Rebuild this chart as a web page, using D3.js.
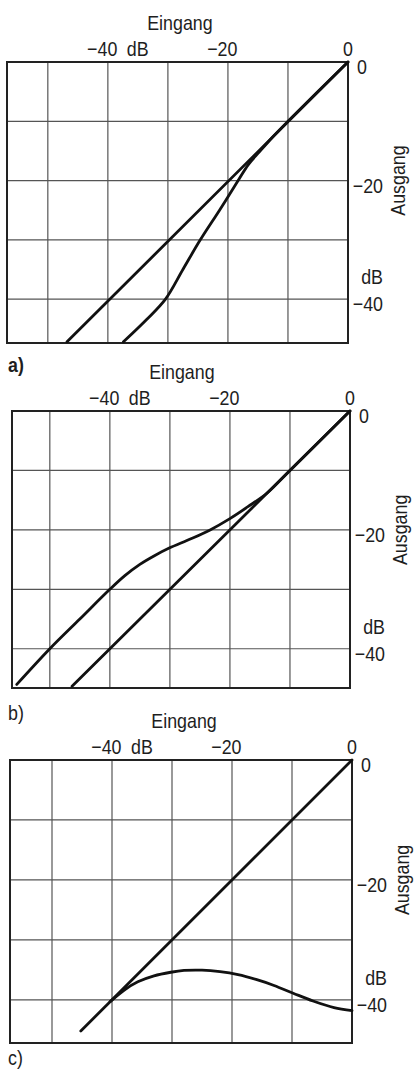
<!DOCTYPE html>
<html>
<head>
<meta charset="utf-8">
<script src="https://cdn.jsdelivr.net/npm/d3@7"></script>
<style>
  body { margin: 0; background: #fff; }
  text { font-family: 'Liberation Sans', Arial, sans-serif; font-size: 21px; fill: #1e1e1e; }
  .grid { stroke: #555; stroke-width: 1.2; }
  .frame { fill: none; stroke: #222; stroke-width: 2; }
  .curve { fill: none; stroke: #111; stroke-width: 2.8; stroke-linecap: round; stroke-linejoin: round; }
</style>
</head>
<body>
<svg id="chart" width="414" height="1070"></svg>
<script>
// grid positions and tick labels (dB)
const gridIn = [-50, -40, -30, -20, -10];
const gridOut = [-10, -20, -30, -40];
const inTicks = [-40, -20, 0];
const outTicks = [0, -20, -40];
const panelNames = ['a)', 'b)', 'c)'];

// a) expander
const diagA = [[-46.8, -47.2], [0, 0]];
const curveA = [[-37.4, -47.2], [-33.5, -43.4], [-30.4, -40], [-27.5, -35], [-24.6, -30],
                [-21.4, -25], [-18.3, -20], [-16.6, -17.3], [-14.8, -15.2], [-12.5, -12.6], [-10, -10], [0, 0]];

// b) compressor
const diagB = [[-46.3, -46.3], [0, 0]];
const curveB = [[-55.5, -46], [-50, -40], [-45, -35], [-40, -30], [-37.5, -27.7], [-35, -25.8],
                [-32.5, -24.3], [-30.2, -23.1], [-26.5, -21.5], [-23.3, -20], [-20, -18.1], [-17, -16.1],
                [-13.8, -13.8], [-10, -10], [0, 0]];

// c)
const diagC = [[-45.2, -45.2], [0, 0]];
const curveC = [[-40.3, -40.3], [-38, -38.4], [-35.7, -37], [-33, -36], [-30.2, -35.4], [-28, -35.1],
                [-25, -35.05], [-22, -35.3], [-19, -35.8], [-16, -36.6], [-13, -37.6], [-9.8, -38.9],
                [-6.5, -40.2], [-3, -41.3], [0, -41.8]];

const panels = [
  { left: 7,  right: 348, top: 62,  bottom: 343,  inMin: -56.8, outMin: -47.4, labelY: 372,  bold: true,  lines: [diagA, curveA] },
  { left: 12, right: 350, top: 411, bottom: 688,  inMin: -56.3, outMin: -46.6, labelY: 720,  bold: false, lines: [diagB, curveB] },
  { left: 10, right: 352, top: 760, bottom: 1043, inMin: -57,   outMin: -47.2, labelY: 1065, bold: false, lines: [diagC, curveC] }
];

const svg = d3.select('#chart');
const fmt = d => d < 0 ? '\u2212' + Math.abs(d) : String(d);
const NARROW = 0.85;   // condensed lettering like the original

function label(g, x, y, str, anchor, rot) {
  return g.append('text')
    .attr('transform', `translate(${x},${y})${rot ? ' rotate(' + rot + ')' : ''} scale(${NARROW},1)`)
    .attr('text-anchor', anchor || 'start')
    .text(str);
}

function drawPanel(p, i) {
  const x = d3.scaleLinear().domain([p.inMin, 0]).range([p.left, p.right]);
  const y = d3.scaleLinear().domain([0, p.outMin]).range([p.top, p.bottom]);
  const g = svg.append('g');

  g.selectAll('.gx').data(gridIn).enter().append('line')
    .attr('class', 'grid')
    .attr('x1', d => x(d)).attr('x2', d => x(d))
    .attr('y1', p.top).attr('y2', p.bottom);

  g.selectAll('.gy').data(gridOut).enter().append('line')
    .attr('class', 'grid')
    .attr('x1', p.left).attr('x2', p.right)
    .attr('y1', d => y(d)).attr('y2', d => y(d));

  g.append('rect').attr('class', 'frame')
    .attr('x', p.left).attr('y', p.top)
    .attr('width', p.right - p.left).attr('height', p.bottom - p.top);

  const line = d3.line().x(d => x(d[0])).y(d => y(d[1])).curve(d3.curveCatmullRom.alpha(0.5));
  g.selectAll('.curve').data(p.lines).enter().append('path')
    .attr('class', 'curve')
    .attr('d', line);

  // top labels
  inTicks.forEach(d => {
    if (d === 0) label(g, x(d), p.top - 6, fmt(d), 'middle');
    else label(g, x(d) + 9.5, p.top - 6, fmt(d), 'end');
  });
  label(g, x(-40) + 19, p.top - 6, 'dB');
  label(g, x(-28), p.top - 32, 'Eingang', 'middle');

  // right labels
  outTicks.forEach(d => {
    if (d === 0) label(g, p.right + 9, y(d) + 12, fmt(d));
    else label(g, p.right + 35, y(d) + 12, fmt(d), 'end');
  });
  label(g, p.right + 35, y(-40) - 15, 'dB', 'end');
  label(g, p.right + 57, y(-20), 'Ausgang', 'middle', -90);

  label(g, 8, p.labelY, panelNames[i]).style('font-weight', p.bold ? 'bold' : 'normal');
}

panels.forEach(drawPanel);
</script>
</body>
</html>
